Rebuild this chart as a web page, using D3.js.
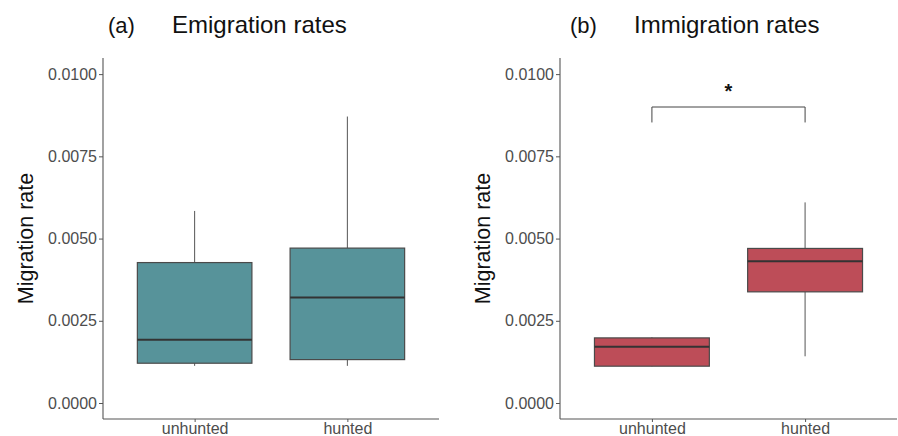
<!DOCTYPE html>
<html><head><meta charset="utf-8">
<script src="https://cdn.jsdelivr.net/npm/d3@7"></script>
<style>body{margin:0;background:#fff;}svg{display:block;font-family:Arial,"Liberation Sans",sans-serif;}</style>
</head><body><svg id="c" width="898" height="436"></svg>
<script>
const categories = ["unhunted", "hunted"];
const yTicks = [0, 0.0025, 0.005, 0.0075, 0.01];
// Emigration (a)
const emiMin = [0.00113, 0.00113];
const emiQ1  = [0.00121, 0.00132];
const emiMed = [0.00192, 0.00321];
const emiQ3  = [0.00427, 0.00471];
const emiMax = [0.00584, 0.00871];
// Immigration (b)
const immMin = [0.00111, 0.00142];
const immQ1  = [0.00112, 0.00338];
const immMed = [0.00171, 0.00431];
const immQ3  = [0.00198, 0.00470];
const immMax = [0.00200, 0.00610];
const sigBar = {y: 0.0090, tick: 0.00853, label: "*"};

const svg = d3.select("#c");
const plotTop = 58, plotBottom = 419;
const y = d3.scaleLinear().domain([-0.000486, 0.01049]).range([plotBottom, plotTop]);

function panel(opts) {
  const x = d3.scalePoint().domain(categories).range([opts.x0, opts.x1]).padding(0.6);
  const bw = x.step() * 0.75;
  const g = svg.append("g");
  // y axis
  const ya = g.append("g").attr("transform", `translate(${opts.x0},0)`)
    .call(d3.axisLeft(y).tickValues(yTicks).tickFormat(d3.format(".4f")).tickSize(4).tickPadding(2));
  ya.select(".domain").attr("d", `M0,${plotTop}V${plotBottom}`).attr("stroke", "#555").attr("stroke-width", 1.1);
  ya.selectAll(".tick line").attr("stroke", "#555");
  ya.selectAll(".tick text").attr("fill", "#4d4d4d").style("font-size", "16px");
  // x axis
  const xa = g.append("g").attr("transform", `translate(0,${plotBottom})`)
    .call(d3.axisBottom(x).tickSize(3).tickPadding(1));
  xa.select(".domain").attr("d", `M${opts.x0},0H${opts.x1}`).attr("stroke", "#555").attr("stroke-width", 1.1);
  xa.selectAll(".tick line").attr("stroke", "#555");
  xa.selectAll(".tick text").attr("fill", "#4d4d4d").style("font-size", "16px");
  // boxes
  categories.forEach((c, i) => {
    const cx = x(c);
    g.append("line").attr("x1", cx).attr("x2", cx).attr("y1", y(opts.max[i])).attr("y2", y(opts.q3[i]))
      .attr("stroke", "#555").attr("stroke-width", 1);
    g.append("line").attr("x1", cx).attr("x2", cx).attr("y1", y(opts.q1[i])).attr("y2", y(opts.min[i]))
      .attr("stroke", "#555").attr("stroke-width", 1);
    g.append("rect").attr("x", cx - bw / 2).attr("width", bw)
      .attr("y", y(opts.q3[i])).attr("height", y(opts.q1[i]) - y(opts.q3[i]))
      .attr("fill", opts.color).attr("stroke", "#4a4a4a").attr("stroke-width", 1.2);
    g.append("line").attr("x1", cx - bw / 2).attr("x2", cx + bw / 2).attr("y1", y(opts.med[i])).attr("y2", y(opts.med[i]))
      .attr("stroke", "#333").attr("stroke-width", 2);
  });
  // titles
  g.append("text").attr("x", opts.tagX).attr("y", 33).attr("font-size", 22).attr("fill", "#111").text(opts.tag);
  g.append("text").attr("x", opts.titleX).attr("y", 33).attr("font-size", 24).attr("fill", "#111").text(opts.title);
  g.append("text").attr("transform", `translate(${opts.labX},${(plotTop + plotBottom) / 2}) rotate(-90)`)
    .attr("text-anchor", "middle").attr("font-size", 21.5).attr("fill", "#111").text("Migration rate");
  return x;
}

panel({x0: 103, x1: 439, min: emiMin, q1: emiQ1, med: emiMed, q3: emiQ3, max: emiMax,
  color: "#57939a", tag: "(a)", tagX: 108, title: "Emigration rates", titleX: 172, labX: 33});
const xb = panel({x0: 560, x1: 897, min: immMin, q1: immQ1, med: immMed, q3: immQ3, max: immMax,
  color: "#bd4d58", tag: "(b)", tagX: 570, title: "Immigration rates", titleX: 634, labX: 490});

// significance bracket
const xl = xb(categories[0]), xr = xb(categories[1]);
svg.append("path").attr("d", `M${xl},${y(sigBar.tick)}V${y(sigBar.y)}H${xr}V${y(sigBar.tick)}`)
  .attr("fill", "none").attr("stroke", "#444").attr("stroke-width", 1);
svg.append("text").attr("x", (xl + xr) / 2).attr("y", y(sigBar.y) - 9).attr("text-anchor", "middle")
  .attr("font-size", 20).attr("font-weight", "bold").attr("fill", "#111").text(sigBar.label);
</script></body></html>
